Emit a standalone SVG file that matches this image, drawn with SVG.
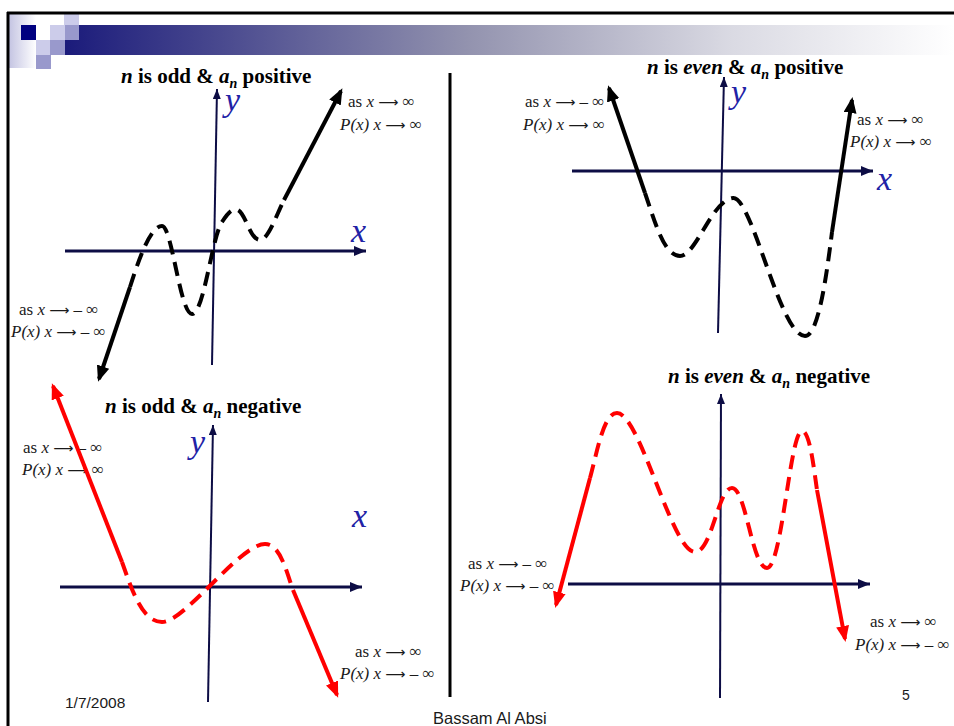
<svg xmlns="http://www.w3.org/2000/svg" width="954" height="726" viewBox="0 0 954 726">
<defs>
<linearGradient id="bar" gradientUnits="userSpaceOnUse" x1="65" y1="0" x2="954" y2="0">
<stop offset="0" stop-color="#1b1b7b"/>
<stop offset="0.45" stop-color="#9292ae"/>
<stop offset="0.75" stop-color="#dadae3"/>
<stop offset="1" stop-color="#ffffff"/>
</linearGradient>
<linearGradient id="lav" x1="0" y1="0" x2="1" y2="0">
<stop offset="0" stop-color="#c4c4e2"/>
<stop offset="1" stop-color="#ffffff"/>
</linearGradient>
<marker id="axh" markerUnits="userSpaceOnUse" markerWidth="13" markerHeight="11" refX="12" refY="5" orient="auto"><path d="M0,0 L12,5 L0,10 z" fill="#0d0d45"/></marker>
<marker id="ayh" markerUnits="userSpaceOnUse" markerWidth="11" markerHeight="9" refX="10" refY="4" orient="auto"><path d="M0,0 L10,4 L0,8 z" fill="#0d0d45"/></marker>
<marker id="bh" markerUnits="userSpaceOnUse" markerWidth="17" markerHeight="14" refX="13" refY="6.5" orient="auto"><path d="M0,0 L16,6.5 L0,13 z" fill="#000"/></marker>
<marker id="rh" markerUnits="userSpaceOnUse" markerWidth="17" markerHeight="14" refX="13" refY="6.5" orient="auto"><path d="M0,0 L16,6.5 L0,13 z" fill="#ff0000"/></marker>
</defs>
<style>
.xax{stroke:#0d0d45;stroke-width:3;fill:none;marker-end:url(#axh)}
.yax{stroke:#0d0d45;stroke-width:2;fill:none;marker-end:url(#ayh)}
.bs{stroke:#000;stroke-width:4;fill:none;marker-end:url(#bh)}
.bd{stroke:#000;stroke-width:4;fill:none;stroke-dasharray:14 8}
.rs{stroke:#ff0000;stroke-width:4;fill:none;marker-end:url(#rh)}
.rd{stroke:#ff0000;stroke-width:4;fill:none;stroke-dasharray:14 8}
.ttl{font-family:"Liberation Serif","Times New Roman",serif;font-weight:bold;font-size:21px;fill:#000}
.lbl{font-family:"Liberation Serif","Times New Roman",serif;font-size:17px;fill:#1a1a1a}
.ar{font-family:"DejaVu Sans",sans-serif;font-size:14px}
.ax{font-family:"Liberation Serif","Times New Roman",serif;font-style:italic;font-size:34px;fill:#2222a6}
.ft{font-family:"Liberation Sans",Arial,sans-serif;fill:#1a1a1a}
.i{font-style:italic}
</style>
<g id="header">
<rect x="9" y="14" width="27" height="54" fill="url(#lav)"/>
<rect x="65" y="25" width="889" height="30" fill="url(#bar)"/>
<rect x="21" y="25" width="15" height="15" fill="#000080"/>
<rect x="64" y="14" width="15" height="11" fill="#ccccea"/>
<rect x="50" y="25" width="15" height="15" fill="#ccccea"/>
<rect x="65" y="25" width="14" height="15" fill="#9999cc"/>
<rect x="36" y="40" width="14" height="15" fill="#ccccea"/>
<rect x="50" y="40" width="15" height="15" fill="#9999cc"/>
<rect x="36" y="55" width="15" height="14" fill="#9999cc"/>
<line x1="7" y1="13" x2="954" y2="13" stroke="#000" stroke-width="3"/>
<line x1="8" y1="12" x2="8" y2="726" stroke="#000" stroke-width="3"/>
</g>
<g id="divider"><line x1="450" y1="73" x2="450" y2="697" stroke="#000" stroke-width="3"/></g>
<g id="panel-odd-positive">
<text class="ttl" x="121" y="83"><tspan class="i">n</tspan> is odd &amp; <tspan class="i">a</tspan><tspan class="i" font-size="14" dy="5">n</tspan><tspan dy="-5"> positive</tspan></text>
<line class="xax" x1="65" y1="251" x2="366" y2="251"/>
<line class="yax" x1="212" y1="365" x2="217" y2="89"/>
<text class="ax" x="225" y="111">y</text>
<text class="ax" x="351" y="242">x</text>
<text class="lbl" x="348" y="107">as <tspan class="i">x</tspan> <tspan class="ar">⟶</tspan> ∞</text>
<text class="lbl" x="340" y="130"><tspan class="i">P(x) x</tspan> <tspan class="ar">⟶</tspan> ∞</text>
<text class="lbl" x="19" y="315">as <tspan class="i">x</tspan> <tspan class="ar">⟶</tspan> – ∞</text>
<text class="lbl" x="11" y="337"><tspan class="i">P(x) x</tspan> <tspan class="ar">⟶</tspan> – ∞</text>
</g>
<g id="panel-even-positive">
<text class="ttl" x="647" y="74"><tspan class="i">n</tspan> is <tspan class="i">even</tspan> &amp; <tspan class="i">a</tspan><tspan class="i" font-size="14" dy="5">n</tspan><tspan dy="-5"> positive</tspan></text>
<line class="xax" x1="572" y1="171" x2="873" y2="171"/>
<line class="yax" x1="718" y1="333" x2="724" y2="77"/>
<text class="ax" x="731" y="103">y</text>
<text class="ax" x="877" y="190">x</text>
<text class="lbl" x="525" y="107">as <tspan class="i">x</tspan> <tspan class="ar">⟶</tspan> – ∞</text>
<text class="lbl" x="523" y="130"><tspan class="i">P(x) x</tspan> <tspan class="ar">⟶</tspan> ∞</text>
<text class="lbl" x="857" y="125">as <tspan class="i">x</tspan> <tspan class="ar">⟶</tspan> ∞</text>
<text class="lbl" x="850" y="147"><tspan class="i">P(x) x</tspan> <tspan class="ar">⟶</tspan> ∞</text>
</g>
<g id="panel-odd-negative">
<text class="ttl" x="105" y="413"><tspan class="i">n</tspan> is odd &amp; <tspan class="i">a</tspan><tspan class="i" font-size="14" dy="5">n</tspan><tspan dy="-5"> negative</tspan></text>
<line class="xax" x1="60" y1="587" x2="362" y2="587"/>
<line class="yax" x1="208" y1="702" x2="213" y2="425"/>
<text class="ax" x="190" y="453">y</text>
<text class="ax" x="352" y="527">x</text>
<text class="lbl" x="23" y="453">as <tspan class="i">x</tspan> <tspan class="ar">⟶</tspan> – ∞</text>
<text class="lbl" x="22" y="475"><tspan class="i">P(x) x</tspan> <tspan class="ar">⟶</tspan> ∞</text>
<text class="lbl" x="355" y="657">as <tspan class="i">x</tspan> <tspan class="ar">⟶</tspan> ∞</text>
<text class="lbl" x="340" y="679"><tspan class="i">P(x) x</tspan> <tspan class="ar">⟶</tspan> – ∞</text>
</g>
<g id="panel-even-negative">
<text class="ttl" x="668" y="383"><tspan class="i">n</tspan> is <tspan class="i">even</tspan> &amp; <tspan class="i">a</tspan><tspan class="i" font-size="14" dy="5">n</tspan><tspan dy="-5"> negative</tspan></text>
<line class="xax" x1="568" y1="584" x2="870" y2="584"/>
<line class="yax" x1="720" y1="698" x2="721" y2="394"/>
<text class="lbl" x="468" y="569">as <tspan class="i">x</tspan> <tspan class="ar">⟶</tspan> – ∞</text>
<text class="lbl" x="460" y="591"><tspan class="i">P(x) x</tspan> <tspan class="ar">⟶</tspan> – ∞</text>
<text class="lbl" x="870" y="627">as <tspan class="i">x</tspan> <tspan class="ar">⟶</tspan> ∞</text>
<text class="lbl" x="855" y="650"><tspan class="i">P(x) x</tspan> <tspan class="ar">⟶</tspan> – ∞</text>
</g>
<g id="connectors">
<path class="bd" d="M130,287 C138,262 150,226 162,226 C172,226 180,314 192,314 C204,314 212,236 222,222 C228,213 232,208 238,210 C246,214 250,240 260,240 C268,240 276,216 284,200"/>
<line class="bs" x1="130" y1="287" x2="99" y2="379"/>
<line class="bs" x1="284" y1="200" x2="341" y2="91"/>
<path class="bd" d="M645,193 C655,222 664,256 680,256 C696,256 712,200 733,198 C752,196 780,336 805,336 C818,336 826,280 832,232"/>
<line class="bs" x1="645" y1="193" x2="609" y2="88"/>
<line class="bs" x1="832" y1="232" x2="852" y2="100"/>
<path class="rd" d="M122,562 C132,590 142,622 162,622 C185,622 240,544 265,544 C280,544 286,570 293,590"/>
<line class="rs" x1="122" y1="562" x2="53" y2="386"/>
<line class="rs" x1="293" y1="590" x2="337" y2="695"/>
<path class="rd" d="M590,478 C598,448 604,413 617,413 C640,413 672,552 695,552 C712,552 718,488 732,488 C746,488 752,568 767,568 C782,568 790,431 802,431 C810,431 814,470 817,490"/>
<line class="rs" x1="590" y1="478" x2="556" y2="605"/>
<line class="rs" x1="817" y1="490" x2="845" y2="639"/>
</g>
<g id="footer">
<text class="ft" x="65" y="708" font-size="15.5px">1/7/2008</text>
<text class="ft" x="433" y="724" font-size="16.5px">Bassam Al Absi</text>
<text class="ft" x="902" y="700" font-size="14px">5</text>
</g>
</svg>
